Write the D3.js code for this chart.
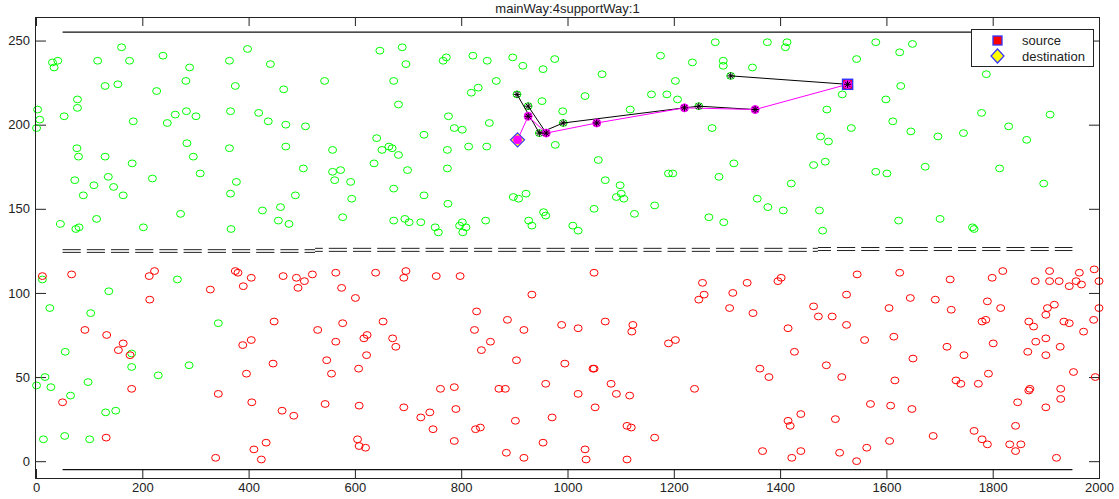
<!DOCTYPE html>
<html><head><meta charset="utf-8">
<script src="https://cdn.jsdelivr.net/npm/d3@7"></script>
<style>body{margin:0;background:#fff}svg{display:block}</style>
</head><body>
<svg id="c" width="1119" height="499"></svg>
<script>
const titleText = "mainWay:4supportWay:1";
const xTicks = [0,200,400,600,800,1000,1200,1400,1600,1800,2000];
const yTicks = [0,50,100,150,200,250];

const greenNodes = [
[3,209],[7,203],[1,198],[31,237],[34,234],[41,238],[53,205],[78,215],[78,210],[77,186],[80,181],[73,167],[89,158],[46,141],[75,138],[81,139],[109,164],[114,144],[116,238],[130,223],[154,224],[161,246],[176,238],[130,181],[136,169],[146,163],[164,158],[181,177],[183,202],[202,139],[219,168],[227,220],[239,241],[247,201],[262,206],[282,226],[289,234],[283,208],[301,205],[284,189],[296,181],[309,171],[272,147],[364,238],[398,245],[375,223],[366,208],[364,186],[377,166],[366,159],[367,138],[419,207],[437,202],[441,236],[466,221],[470,200],[470,187],[426,149],[460,151],[456,143],[476,141],[488,158],
[503,174],[507,199],[543,226],[558,185],[558,172],[562,167],[573,173],[592,166],[594,156],[577,145],[647,244],[689,246],[696,236],[673,226],[682,212],[641,192],[651,185],[664,187],[670,186],[682,182],[636,177],[699,173],[673,162],[730,158],[673,143],[694,144],[702,142],[724,142],[751,139],[757,136],[730,194],[766,238],[772,240],[776,205],[787,198],[802,197],[774,185],[774,174],[775,153],[802,142],[797,140],[809,139],[803,136],[822,241],[849,238],[819,219],[832,222],[866,226],[853,201],[814,187],[848,187],[846,143],[897,240],[916,235],[954,233],[976,239],[952,214],[991,208],[977,188],[898,157],[908,156],[922,159],[927,143],[933,140],[955,148],[959,146],[1010,140],[1020,137],
[905,218],[926,211],[947,195],[992,201],[1247,211],[1307,229],
[1065,230],[1033,217],[1118,209],[1175,241],[1203,226],[1158,218],[1187,218],[1207,215],[1235,237],[1278,249],[1293,238],[1293,235],[1348,234],[1376,249],[1413,249],[1410,246],[1544,239],[1517,218],[1488,209],[1534,198],[1476,193],[1491,190],[1272,198],[1058,179],[1071,167],[1099,164],[1101,159],[1092,157],[1106,156],[1050,150],[1126,147],[1164,152],[1190,171],[1198,171],[1285,169],[1313,177],[1266,145],[1294,142],[1357,156],[1377,151],[1406,149],[1421,165],[1463,176],[1485,178],[1474,149],[1480,137],
[1580,249],[1625,243],[1649,248],[1627,223],[1599,215],[1612,202],[1646,196],[1697,193],[1745,195],[1779,207],[1788,230],[1830,199],[1864,191],[1908,206],[1580,172],[1601,171],[1673,175],[1813,174],[1896,165],[1623,143],[1701,144],[1762,139],[1765,138],
[12,108],[26,91],[103,88],[137,101],[55,65],[17,50],[1,45],[28,44],[65,39],[98,47],[180,64],[180,56],[131,29],[150,30],[14,13],[54,15],[101,13],[266,108],[343,82],[230,51],[288,57]
];

const redNodes = [
[12,110],[67,111],[92,78],[133,75],[155,66],[164,70],[177,63],[50,35],[180,43],[132,14],[213,110],[223,113],[214,96],[328,102],[375,113],[380,112],[405,109],[390,104],[448,83],[389,69],[405,72],[396,52],[446,58],[343,40],[406,35],[463,30],[485,27],[338,2],[410,7],[433,11],[424,1],[465,110],[490,109],[493,103],
[505,107],[520,111],[564,112],[575,103],[601,97],[639,112],[696,113],[692,109],[753,110],[798,110],[530,78],[577,82],[564,71],[653,83],[623,75],[617,73],[671,73],[677,68],[622,63],[547,60],[607,55],[556,52],[544,34],[608,33],[692,32],[605,13],[608,9],[620,8],[724,26],[741,29],[747,19],[761,43],[787,44],[790,31],[787,12],[829,89],[825,78],[838,66],[855,71],[887,84],[918,78],[933,99],[904,60],[871,43],[883,43],[827,19],[836,20],[902,24],[885,5],[918,2],[959,46],[971,26],[954,11],[989,81],[995,58],[1020,79],[1020,40],
[1050,112],[1071,83],[1123,81],[1121,77],[1190,70],[1203,72],[1048,55],[1050,55],[1082,46],[1092,40],[1117,39],[1052,32],[1239,43],[1112,21],[1120,20],[1164,14],[1033,7],[1035,1],[1112,1],[1254,106],[1257,99],[1247,96],[1311,100],[1305,91],[1338,106],[1349,88],[1396,107],[1402,109],[1362,55],[1379,50],[1415,79],[1427,65],[1463,92],[1472,86],[1498,86],[1525,99],[1525,81],[1545,111],[1487,57],[1516,50],[1415,24],[1419,21],[1439,28],[1504,25],[1367,6],[1422,2],[1439,6],[1512,5],[1544,0],
[1625,112],[1720,108],[1799,109],[1819,113],[1880,107],[1907,113],[1907,107],[1925,107],[1944,104],[1963,112],[1957,107],[1967,105],[1991,114],[2000,107],[1645,97],[1692,96],[1605,91],[1722,90],[1790,95],[1815,91],[1780,83],[1787,84],[1868,83],[1877,80],[1900,87],[1903,91],[1916,93],[1934,83],[1944,82],[1990,84],[2000,91],[1971,77],[1559,72],[1614,74],[1714,68],[1746,63],[1801,70],[1866,65],[1881,71],[1900,73],[1900,63],[1927,68],[1650,61],[1952,53],[1993,50],[1616,48],[1731,48],[1740,46],[1773,46],[1792,52],[1868,42],[1870,43],[1928,43],[1928,37],[1847,35],[1900,32],[1570,34],[1608,33],[1648,31],[1563,8],[1606,12],[1688,15],[1765,18],[1780,13],[1790,10],[1832,10],[1853,10],[1843,6],[1843,21],[1920,2]
];

// road boundary lines [x0, x1, y]
const boundaryLines = [[50,1950,255],[50,1950,-5]];
// main way dashed double lines [x0, x1, yLow, yHigh]
const mainWaySegments = [[50,525,124.1,125.7],[525,1471,124.7,126.5],[1471,1950,125.2,127.0]];

// routing nodes
const routeNodes = {
  S:[1527,224], K:[1307,229], J:[1353,209], I:[1247,211], H:[1220,210],
  G:[1055,201], F:[992,201], E:[960,195], D:[947,195], C:[926,205],
  B:[926,211], A:[905,218], T:[906,191]
};
const blackSegments = [["S","K"],["J","I"],["I","H"],["H","F"],["F","D"],["D","E"],["D","A"],["E","B"]];
const magentaRoute = ["S","J","H","G","E","C","T"];
const asteriskNodes = ["S","K","J","I","H","G","F","E","D","C","B","A"];
const sourceNode = "S", destNode = "T";
const legendLabels = ["source","destination"];

const svg = d3.select("#c");
const FONT = "'Liberation Sans', Arial, sans-serif";
const L = 36, R = 1099, T = 17, B = 478;
const x = d3.scaleLinear().domain([0,2000]).range([L,R]);
const y = d3.scaleLinear().domain([-10,264]).range([B,T]);

// frame background
svg.append("rect").attr("x",L).attr("y",T).attr("width",R-L).attr("height",B-T).attr("fill","#fff");

// axes
const gx = svg.append("g").attr("transform",`translate(0,${B})`)
  .call(d3.axisBottom(x).tickValues(xTicks).tickSizeInner(-9).tickSizeOuter(0).tickPadding(5).tickFormat(d3.format("d")));
const gxt = svg.append("g").attr("transform",`translate(0,${T})`)
  .call(d3.axisTop(x).tickValues(xTicks).tickSizeInner(-9).tickSizeOuter(0).tickFormat(""));
const gy = svg.append("g").attr("transform",`translate(${L},0)`)
  .call(d3.axisLeft(y).tickValues(yTicks).tickSizeInner(-10).tickSizeOuter(0).tickPadding(6));
const gyr = svg.append("g").attr("transform",`translate(${R},0)`)
  .call(d3.axisRight(y).tickValues(yTicks).tickSizeInner(-10).tickSizeOuter(0).tickFormat(""));
[gx,gxt,gy,gyr].forEach(g=>{
  g.select(".domain").remove();
  g.selectAll(".tick line").attr("stroke","#222");
  g.selectAll("text").attr("font-family",FONT).attr("font-size",13).attr("fill","#222");
});

const plot = svg.append("g");

// boundary lines
plot.selectAll("line.bd").data(boundaryLines).join("line").attr("class","bd")
  .attr("x1",d=>x(d[0])).attr("x2",d=>x(d[1])).attr("y1",d=>y(d[2])).attr("y2",d=>y(d[2]))
  .attr("stroke","#111").attr("stroke-width",1.3);

// main way dashed lines
const dashStart = x(mainWaySegments[0][0]);
mainWaySegments.forEach(s=>{
  [s[2],s[3]].forEach(v=>{
    plot.append("line").attr("x1",x(s[0])).attr("x2",x(s[1])).attr("y1",y(v)).attr("y2",y(v))
      .attr("stroke","#222").attr("stroke-width",1)
      .attr("stroke-dasharray","18.2,6")
      .attr("stroke-dashoffset", (x(s[0])-dashStart));
  });
});

// nodes
plot.selectAll("ellipse.g").data(greenNodes).join("ellipse").attr("class","g")
  .attr("cx",d=>x(d[0])).attr("cy",d=>y(d[1])).attr("rx",4).attr("ry",3.4)
  .attr("fill","none").attr("stroke","#00ff00").attr("stroke-width",1);
plot.selectAll("ellipse.r").data(redNodes).join("ellipse").attr("class","r")
  .attr("cx",d=>x(d[0])).attr("cy",d=>y(d[1])).attr("rx",4).attr("ry",3.4)
  .attr("fill","none").attr("stroke","#ff0000").attr("stroke-width",1);

const P = k => [x(routeNodes[k][0]), y(routeNodes[k][1])];

// black segments
plot.selectAll("line.bk").data(blackSegments).join("line").attr("class","bk")
  .attr("x1",d=>P(d[0])[0]).attr("y1",d=>P(d[0])[1]).attr("x2",d=>P(d[1])[0]).attr("y2",d=>P(d[1])[1])
  .attr("stroke","#000").attr("stroke-width",1);

// magenta route
plot.append("path").datum(magentaRoute.map(P)).attr("d",d3.line())
  .attr("fill","none").attr("stroke","#ff00ff").attr("stroke-width",1);

// source square & destination diamond
const sp = P(sourceNode), tp = P(destNode);
plot.append("rect").attr("x",sp[0]-5).attr("y",sp[1]-5).attr("width",10).attr("height",10)
  .attr("fill","#ff0000").attr("stroke","#3333ff").attr("stroke-width",1.5);
plot.append("path").attr("d",`M${tp[0]},${tp[1]-7}L${tp[0]+7},${tp[1]}L${tp[0]},${tp[1]+7}L${tp[0]-7},${tp[1]}Z`)
  .attr("fill","#ffff00").attr("stroke","#3333ff").attr("stroke-width",1.2);

// magenta markers
plot.selectAll("circle.mg").data(magentaRoute).join("circle").attr("class","mg")
  .attr("cx",d=>P(d)[0]).attr("cy",d=>P(d)[1]).attr("r",4)
  .attr("fill","#ff00ff").attr("stroke","#ff00ff");

// asterisks
const ast = plot.selectAll("g.ast").data(asteriskNodes).join("g").attr("class","ast")
  .attr("transform",d=>`translate(${P(d)[0]},${P(d)[1]})`);
const a = 3.6, b = 2.6;
[[-a,0,a,0],[0,-a,0,a],[-b,-b,b,b],[-b,b,b,-b]].forEach(s=>{
  ast.append("line").attr("x1",s[0]).attr("y1",s[1]).attr("x2",s[2]).attr("y2",s[3])
    .attr("stroke","#000").attr("stroke-width",1);
});

// frame
svg.append("rect").attr("x",L-0.5).attr("y",T+0.5).attr("width",R-L+1).attr("height",B-T)
  .attr("fill","none").attr("stroke","#222").attr("stroke-width",1);

// title
svg.append("text").attr("x",(L+R)/2).attr("y",13).attr("text-anchor","middle")
  .attr("font-family",FONT).attr("font-size",13).attr("fill","#222").text(titleText);

// legend
const lg = svg.append("g").attr("transform","translate(971,29)");
lg.append("rect").attr("x",0.5).attr("y",0.5).attr("width",122).attr("height",37)
  .attr("fill","#fff").attr("stroke","#222").attr("stroke-width",1);
lg.append("rect").attr("x",22).attr("y",7).attr("width",9).attr("height",9)
  .attr("fill","#ff0000").attr("stroke","#3333ff").attr("stroke-width",1.3);
lg.append("path").attr("d","M26.5,20L33,27L26.5,34L20,27Z")
  .attr("fill","#ffff00").attr("stroke","#3333ff").attr("stroke-width",1.2);
lg.selectAll("text").data(legendLabels).join("text")
  .attr("x",51).attr("y",(d,i)=>16+i*16)
  .attr("font-family",FONT).attr("font-size",13).attr("fill","#222").text(d=>d);
</script>
</body></html>
